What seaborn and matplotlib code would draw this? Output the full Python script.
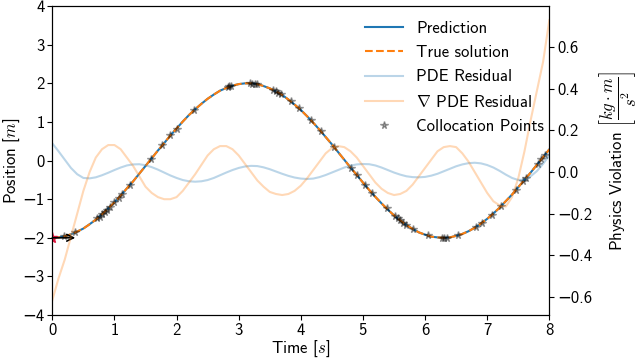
import matplotlib
matplotlib.use("Agg")
import matplotlib.pyplot as plt
import seaborn as sns

# time grid (s)
t = [0.0, 0.1, 0.2, 0.3, 0.4, 0.5, 0.6, 0.7, 0.8, 0.9,
     1.0, 1.1, 1.2, 1.3, 1.4, 1.5, 1.6, 1.7, 1.8, 1.9,
     2.0, 2.1, 2.2, 2.3, 2.4, 2.5, 2.6, 2.7, 2.8, 2.9,
     3.0, 3.1, 3.2, 3.3, 3.4, 3.5, 3.6, 3.7, 3.8, 3.9,
     4.0, 4.1, 4.2, 4.3, 4.4, 4.5, 4.6, 4.7, 4.8, 4.9,
     5.0, 5.1, 5.2, 5.3, 5.4, 5.5, 5.6, 5.7, 5.8, 5.9,
     6.0, 6.1, 6.2, 6.3, 6.4, 6.5, 6.6, 6.7, 6.8, 6.9,
     7.0, 7.1, 7.2, 7.3, 7.4, 7.5, 7.6, 7.7, 7.8, 7.9, 8.0]

# position (m)
true_pos = [-2.00, -1.99, -1.96, -1.91, -1.84, -1.76, -1.65, -1.53, -1.39, -1.24,
            -1.08, -0.91, -0.72, -0.54, -0.34, -0.14, 0.06, 0.26, 0.45, 0.65,
            0.83, 1.01, 1.18, 1.33, 1.47, 1.60, 1.71, 1.81, 1.88, 1.94,
            1.98, 2.00, 2.00, 1.98, 1.93, 1.87, 1.79, 1.70, 1.58, 1.45,
            1.31, 1.15, 0.98, 0.80, 0.61, 0.42, 0.22, 0.02, -0.18, -0.37,
            -0.57, -0.76, -0.94, -1.11, -1.27, -1.42, -1.55, -1.67, -1.77, -1.86,
            -1.92, -1.97, -1.99, -2.00, -1.99, -1.95, -1.90, -1.83, -1.74, -1.63,
            -1.51, -1.37, -1.22, -1.05, -0.88, -0.69, -0.50, -0.31, -0.11, 0.09, 0.29]
pred_pos = list(true_pos)

# residuals (right axis)
pde_res = [0.138, 0.10, 0.06, 0.02, -0.01, -0.028, -0.03, -0.025, -0.015, -0.003,
           0.01, 0.022, 0.032, 0.037, 0.038, 0.033, 0.024, 0.012, -0.002, -0.016,
           -0.028, -0.038, -0.044, -0.046, -0.044, -0.038, -0.028, -0.015, -0.002, 0.01,
           0.02, 0.027, 0.03, 0.029, 0.023, 0.014, 0.003, -0.008, -0.018, -0.026,
           -0.031, -0.033, -0.031, -0.024, -0.014, -0.002, 0.01, 0.022, 0.031, 0.037,
           0.039, 0.038, 0.032, 0.022, 0.01, -0.002, -0.012, -0.02, -0.024, -0.025,
           -0.023, -0.017, -0.008, 0.004, 0.016, 0.028, 0.037, 0.043, 0.045, 0.042,
           0.034, 0.022, 0.006, -0.012, -0.028, -0.038, -0.036, -0.02, 0.005, 0.04, 0.08]

grad_res = [-0.615, -0.51, -0.42, -0.31, -0.20, -0.09, 0.00, 0.07, 0.11, 0.13,
            0.13, 0.11, 0.07, 0.03, -0.02, -0.07, -0.10, -0.12, -0.13, -0.13,
            -0.12, -0.09, -0.05, -0.01, 0.035, 0.08, 0.11, 0.125, 0.125, 0.11,
            0.08, 0.04, 0.00, -0.04, -0.07, -0.095, -0.105, -0.11, -0.105, -0.09,
            -0.065, -0.03, 0.01, 0.05, 0.09, 0.115, 0.125, 0.12, 0.10, 0.07,
            0.03, -0.01, -0.05, -0.08, -0.10, -0.11, -0.105, -0.09, -0.06, -0.02,
            0.02, 0.06, 0.10, 0.12, 0.125, 0.12, 0.09, 0.05, 0.00, -0.05,
            -0.10, -0.14, -0.16, -0.165, -0.12, -0.03, 0.10, 0.25, 0.39, 0.53, 0.73]

# collocation points
coll_t = [0.19, 0.37, 0.72, 0.76, 0.80, 0.84, 0.88, 0.93, 1.00, 1.07, 1.12, 1.25,
          1.59, 1.77, 1.90, 2.00, 2.28, 2.82, 2.85, 2.88, 3.18, 3.22, 3.26, 3.30,
          3.56, 3.60, 3.64, 3.68, 3.84, 3.97, 4.16, 4.32, 4.53, 4.81, 4.90, 5.04,
          5.15, 5.38, 5.52, 5.56, 5.60, 5.65, 5.70, 5.81, 6.05, 6.27, 6.31, 6.35,
          6.53, 6.82, 6.91, 7.07, 7.23, 7.47, 7.58, 7.62, 7.81, 7.87, 7.93]
coll_x = [-1.96, -1.86, -1.50, -1.45, -1.39, -1.33, -1.27, -1.20, -1.08, -0.96, -0.87, -0.63,
          0.04, 0.40, 0.65, 0.83, 1.30, 1.90, 1.92, 1.93, 2.00, 1.99, 1.99, 1.97,
          1.82, 1.79, 1.76, 1.72, 1.53, 1.35, 1.05, 0.76, 0.36, -0.19, -0.37, -0.64,
          -0.85, -1.24, -1.44, -1.50, -1.55, -1.61, -1.67, -1.78, -1.94, -2.00, -2.00, -2.00,
          -1.94, -1.72, -1.62, -1.41, -1.17, -0.75, -0.54, -0.46, -0.09, 0.03, 0.15]

# initial condition
t0 = 0.0
pos0 = -2.0
v_tip = 0.37

plt.rcParams['font.family'] = ['cmss10', 'DejaVu Sans']
plt.rcParams['mathtext.fontset'] = 'cm'
plt.rcParams['font.size'] = 12
plt.rcParams['axes.unicode_minus'] = True
plt.rcParams['xtick.major.pad'] = 2
plt.rcParams['ytick.major.pad'] = 2

fig, ax = plt.subplots(figsize=(6.38, 3.6), dpi=100)
fig.subplots_adjust(left=0.082, right=0.861, bottom=0.125, top=0.983)
ax2 = ax.twinx()

blue = '#1f77b4'
orange = '#ff7f0e'

sns.lineplot(x=t, y=pred_pos, ax=ax, color=blue, lw=1.5, label='Prediction', legend=False)
sns.lineplot(x=t, y=true_pos, ax=ax, color=orange, lw=1.5, ls='--', label='True solution', legend=False)
sns.lineplot(x=t, y=pde_res, ax=ax2, color=blue, lw=1.5, alpha=0.3, label='PDE Residual', legend=False)
sns.lineplot(x=t, y=grad_res, ax=ax2, color=orange, lw=1.5, alpha=0.3,
             label=r'$\nabla$ PDE Residual', legend=False)
coll, = ax.plot(coll_t, coll_x, ls='none', marker='*', color='k', alpha=0.35, ms=5.5,
                label='Collocation Points', zorder=3)
ax.plot([t0], [pos0], ls='none', marker='*', color='crimson', ms=8, zorder=4)
ax.annotate('', xy=(v_tip, pos0), xytext=(t0, pos0),
            arrowprops=dict(arrowstyle='->', color='k', lw=1.2, shrinkA=0, shrinkB=0,
                            mutation_scale=12), zorder=5)

ax.set_xlim(0, 8)
ax.set_ylim(-4, 4)
ax2.set_ylim(-0.686, 0.797)
ax.set_xticks(range(0, 9))
ax.set_yticks(range(-4, 5))
ax2.set_yticks([-0.6, -0.4, -0.2, 0.0, 0.2, 0.4, 0.6])
ax.set_xlabel('Time [$s$]', labelpad=1)
ax.set_ylabel('Position [$m$]', labelpad=0)
ax2.set_ylabel(r'Physics Violation $\left[\dfrac{kg\cdot m}{s^2}\right]$', labelpad=4)

h1, l1 = ax.get_legend_handles_labels()
h2, l2 = ax2.get_legend_handles_labels()
handles = [h1[0], h1[1], h2[0], h2[1], coll]
labels = [l1[0], l1[1], l2[0], l2[1], 'Collocation Points']
ax2.legend(handles, labels, loc='upper right', frameon=False, handlelength=2.3,
           handletextpad=0.8, labelspacing=0.55, bbox_to_anchor=(1.02, 1.0))

plt.savefig('out.png', dpi=100)
